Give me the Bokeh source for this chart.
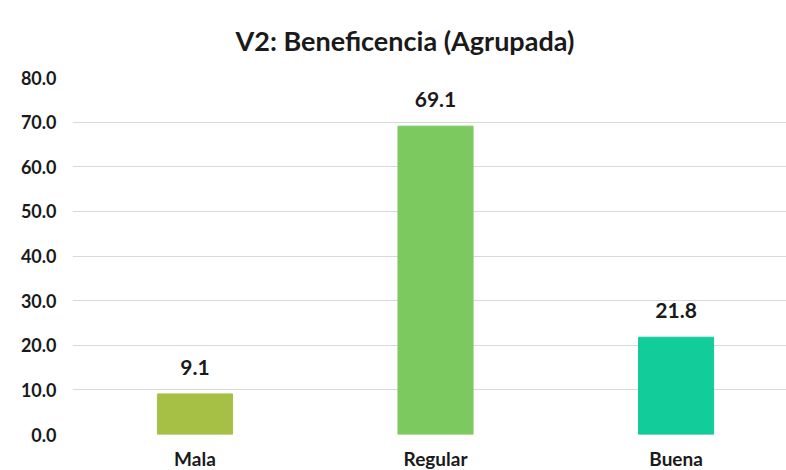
from bokeh.plotting import figure
from bokeh.models import ColumnDataSource, Range1d, FixedTicker, LabelSet, Title
from bokeh.core.properties import value
from bokeh.embed import file_html
from bokeh.resources import INLINE

categories = ["Mala", "Regular", "Buena"]
values = [9.1, 69.1, 21.8]
colors = ["#A6C046", "#7CC95F", "#12CC9A"]
y_ticks = [0, 10, 20, 30, 40, 50, 60, 70, 80]
title_text = "V2: Beneficencia (Agrupada)"

FONT = "Lato"

xs = list(range(len(categories)))
src = ColumnDataSource(dict(
    x=xs, top=values, color=colors,
    label=[f"{v:.1f}" for v in values],
    cat=categories,
))

p = figure(frame_width=714, frame_height=357, output_backend="svg", toolbar_location=None,
           x_range=Range1d(-0.509, 2.459), y_range=Range1d(0, 80),
           min_border_left=72, min_border_right=0, min_border_top=75,
           min_border_bottom=0)
p.title = None

p.vbar(x="x", top="top", width=0.312, bottom=0, color="color", source=src)

labels = LabelSet(x="x", y="top", text="label", source=src, text_align="center",
                  text_baseline="bottom", y_offset=19, text_font=value(FONT),
                  text_font_style="bold", text_font_size="21px", text_color="#1a1a1a")
p.add_layout(labels)

p.xaxis.ticker = FixedTicker(ticks=xs)
p.xaxis.major_label_overrides = {i: c for i, c in zip(xs, categories)}
p.yaxis.ticker = FixedTicker(ticks=y_ticks)
p.yaxis.major_label_overrides = {t: f"{t:.1f}" for t in y_ticks}

for ax in (p.xaxis, p.yaxis):
    ax.axis_line_color = None
    ax.major_tick_line_color = None
    ax.minor_tick_line_color = None
    ax.major_tick_out = 0
    ax.major_tick_in = 0
    ax.major_label_text_font = FONT
    ax.major_label_text_font_style = "bold"
    ax.major_label_text_color = "#1a1a1a"
p.yaxis.major_label_text_font_size = "18px"
p.xaxis.major_label_text_font_size = "19px"
p.yaxis.major_label_standoff = 16
p.xaxis.major_label_standoff = 12

p.xgrid.grid_line_color = None
p.ygrid.grid_line_color = "#d9d9d9"
p.ygrid.grid_line_width = 1
p.outline_line_color = None
p.background_fill_color = "white"
p.border_fill_color = "white"

t = Title(text=title_text, align="left", text_font=FONT, text_font_style="bold",
          text_font_size="27px", text_color="#1a1a1a", offset=163, standoff=42)
p.add_layout(t, "above")

open("out.html", "w").write(file_html(p, INLINE))
